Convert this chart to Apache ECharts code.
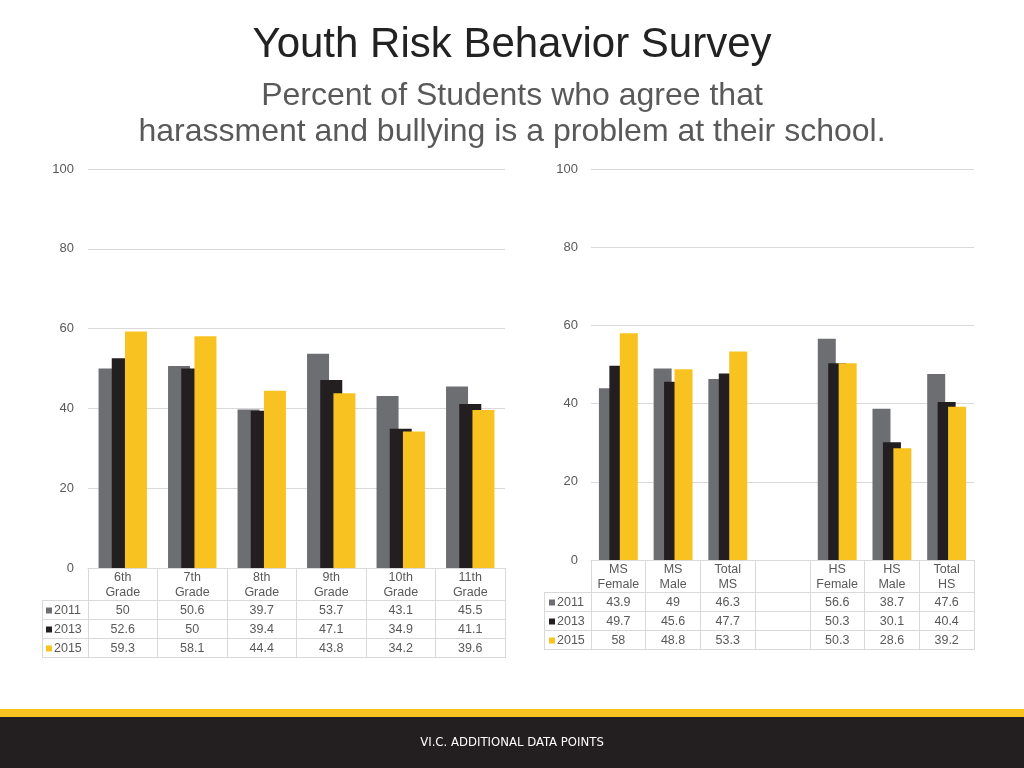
<!DOCTYPE html>
<html>
<head>
<meta charset="utf-8">
<script src="https://cdn.jsdelivr.net/npm/echarts@6/dist/echarts.min.js"></script>
<style>
html,body{margin:0;padding:0;background:#fff;}
#chart{width:1024px;height:768px;}
</style>
</head>
<body>
<div id="chart"></div>
<script>
// ---- Data ----
var seriesNames = ['2011', '2013', '2015'];
var gradeCategories = ['6th\nGrade', '7th\nGrade', '8th\nGrade', '9th\nGrade', '10th\nGrade', '11th\nGrade'];
var grade2011 = [50, 50.6, 39.7, 53.7, 43.1, 45.5];
var grade2013 = [52.6, 50, 39.4, 47.1, 34.9, 41.1];
var grade2015 = [59.3, 58.1, 44.4, 43.8, 34.2, 39.6];

var groupCategories = ['MS\nFemale', 'MS\nMale', 'Total\nMS', '', 'HS\nFemale', 'HS\nMale', 'Total\nHS'];
var group2011 = [43.9, 49, 46.3, null, 56.6, 38.7, 47.6];
var group2013 = [49.7, 45.6, 47.7, null, 50.3, 30.1, 40.4];
var group2015 = [58, 48.8, 53.3, null, 50.3, 28.6, 39.2];

var yTicks = [0, 20, 40, 60, 80, 100];

// ---- Style ----
var colors = ['#6d6e71', '#231f20', '#f8c321'];
var gridColor = '#d9d9d9';
var textColor = '#595959';
var font = 'Liberation Sans, Arial, sans-serif';

function fmt(arr) { return arr.map(function (v) { return v == null ? '' : String(v); }); }

var chart = echarts.init(document.getElementById('chart'), null, { renderer: 'canvas' });

var grids = [
  { left: 88, right: 519, top: 169, bottom: 200 },
  { left: 591, right: 50, top: 169, bottom: 208 }
];

function mainX(gi, cats) {
  return {
    type: 'category', gridIndex: gi, data: cats, position: 'bottom',
    axisLine: { show: true, lineStyle: { color: gridColor, width: 1 } },
    axisTick: { show: true, length: 90, interval: 0, lineStyle: { color: gridColor } },
    axisLabel: { interval: 0, color: textColor, fontSize: 12.5, fontFamily: font, lineHeight: 15, margin: 2 },
    splitLine: { show: false }
  };
}
function rowX(gi, values, offset) {
  return {
    type: 'category', gridIndex: gi, data: fmt(values), position: 'bottom', offset: offset,
    axisLine: { show: false }, axisTick: { show: false }, splitLine: { show: false },
    axisLabel: { interval: 0, color: textColor, fontSize: 12.5, fontFamily: font, lineHeight: 19, margin: 0 }
  };
}
function valY(gi, margin) {
  return {
    type: 'value', gridIndex: gi, min: yTicks[0], max: yTicks[yTicks.length - 1], interval: yTicks[1] - yTicks[0],
    axisLine: { show: false }, axisTick: { show: false },
    splitLine: { show: true, lineStyle: { color: gridColor, width: 1 } },
    axisLabel: { color: textColor, fontSize: 13, fontFamily: font, margin: margin }
  };
}

var xAxes = [
  mainX(0, gradeCategories),
  mainX(1, groupCategories),
  rowX(0, grade2011, 33), rowX(0, grade2013, 52), rowX(0, grade2015, 71),
  rowX(1, group2011, 33), rowX(1, group2013, 52), rowX(1, group2015, 71)
];

var leftData = [grade2011, grade2013, grade2015];
var rightData = [group2011, group2013, group2015];
var series = [];
seriesNames.forEach(function (n, i) {
  series.push({
    name: n, type: 'bar', xAxisIndex: 0, yAxisIndex: 0, data: leftData[i],
    barWidth: 22, barGap: '-40%', itemStyle: { color: colors[i] }, silent: true, z: 2 + i
  });
});
seriesNames.forEach(function (n, i) {
  series.push({
    name: n, type: 'bar', xAxisIndex: 1, yAxisIndex: 1, data: rightData[i],
    barWidth: 18, barGap: '-42%', itemStyle: { color: colors[i] }, silent: true, z: 2 + i
  });
});

function tableLines(x0, x1, ys) {
  var els = [];
  ys.forEach(function (y) {
    els.push({ type: 'line', shape: { x1: x0, y1: y + 0.5, x2: x1, y2: y + 0.5 }, style: { stroke: gridColor, lineWidth: 1 }, silent: true });
  });
  els.push({ type: 'line', shape: { x1: x0 + 0.5, y1: ys[0], x2: x0 + 0.5, y2: ys[ys.length - 1] + 1 }, style: { stroke: gridColor, lineWidth: 1 }, silent: true });
  return els;
}

var graphics = [
  { type: 'text', left: 'center', top: 24, style: { text: 'Youth Risk Behavior Survey', fill: '#222222', font: '42px ' + font } },
  { type: 'text', left: 'center', top: 80, style: { text: 'Percent of Students who agree that', fill: '#595959', font: '32px ' + font } },
  { type: 'text', left: 'center', top: 116, style: { text: 'harassment and bullying is a problem at their school.', fill: '#595959', font: '32px ' + font } },
  { type: 'rect', shape: { x: 0, y: 709, width: 1024, height: 8 }, style: { fill: '#f8c321' }, silent: true },
  { type: 'rect', shape: { x: 0, y: 717, width: 1024, height: 51 }, style: { fill: '#231f20' }, silent: true },
  { type: 'text', left: 'center', top: 736, style: { text: 'VI.C. ADDITIONAL DATA POINTS', fill: '#ffffff', font: '13px "Liberation Sans Narrow", "DejaVu Sans Condensed", sans-serif' } }
].concat(tableLines(42, 505, [600, 619, 638, 657]))
 .concat(tableLines(544, 974, [592, 611, 630, 649]));

function legendAt(left, top) {
  return {
    data: seriesNames, orient: 'vertical', left: left, top: top, padding: 0,
    itemWidth: 6, itemHeight: 6, itemGap: 0, selectedMode: false, icon: 'rect',
    textStyle: { color: textColor, fontSize: 12.5, fontFamily: font, lineHeight: 19, padding: [0, 0, 0, -3] }
  };
}

var option = {
  animation: false,
  backgroundColor: '#ffffff',
  grid: grids,
  xAxis: xAxes,
  yAxis: [valY(0, 14), valY(1, 13)],
  legend: [legendAt(46, 601), legendAt(549, 593)],
  graphic: graphics,
  series: series
};
chart.setOption(option);
</script>
</body>
</html>
